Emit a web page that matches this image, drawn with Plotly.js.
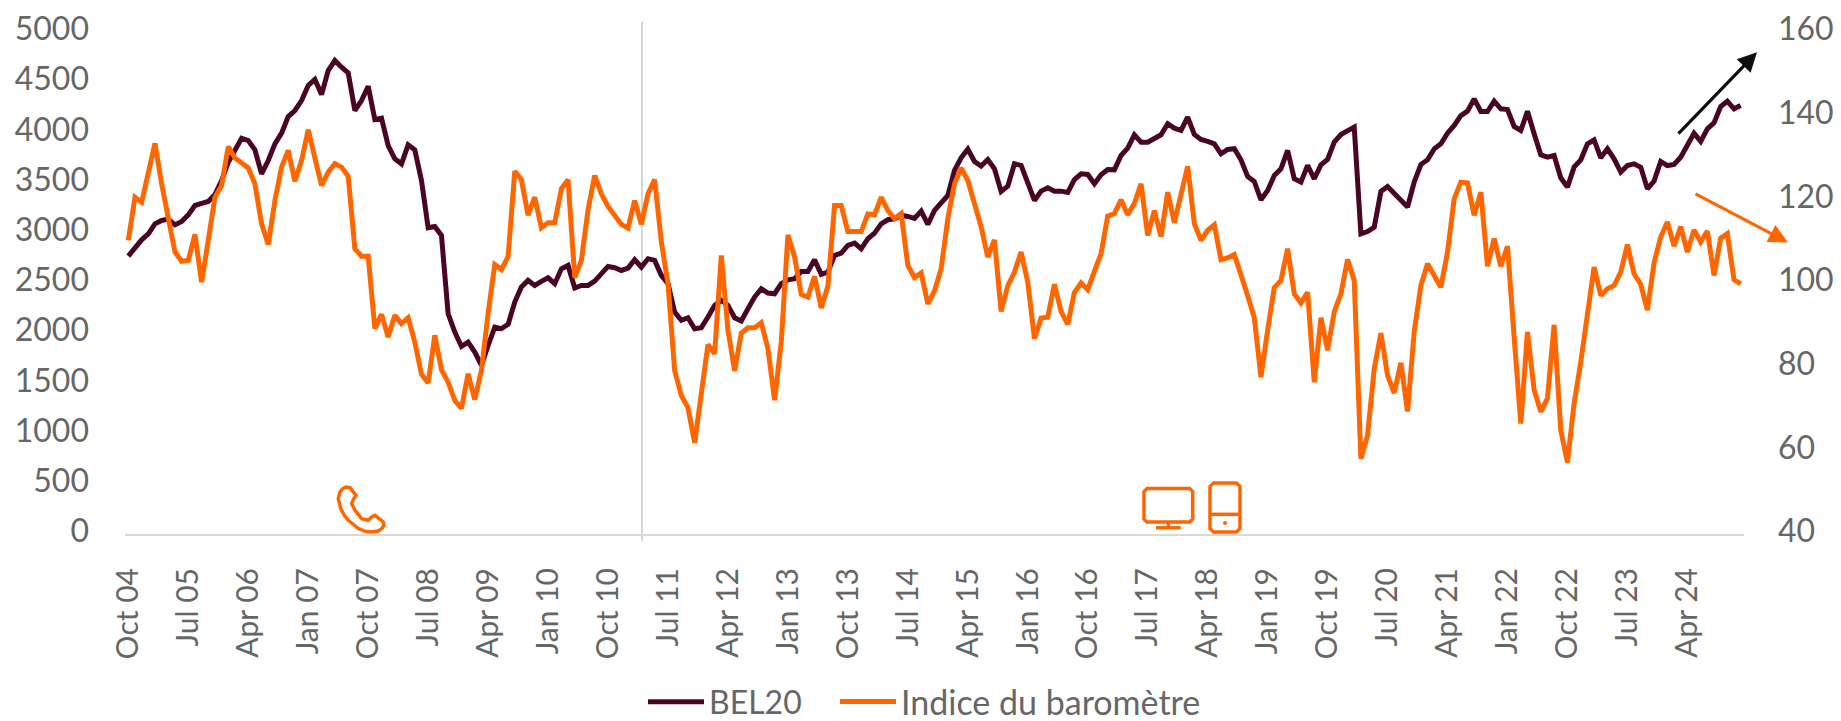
<!DOCTYPE html>
<html><head><meta charset="utf-8">
<script src="https://cdn.plot.ly/plotly-3.0.1.min.js"></script>
<style>html,body{margin:0;padding:0;background:#fff}</style></head>
<body><div id="chart" style="width:1841px;height:721px"></div>
<script>
const monthNames = ['Jan','Feb','Mar','Apr','May','Jun','Jul','Aug','Sep','Oct','Nov','Dec'];
const bel20 = [
2768,2857,2930,2990,3089,3123,3136,3079,3113,3179,3272,3292,3312,3381,3521,3703,3836,3942,3919,3826,
3587,3720,3886,3992,4158,4218,4317,4467,4527,4377,4616,4716,4649,4593,4218,4317,4460,4128,4142,3869,
3737,3687,3876,3826,3521,3050,3063,2973,2193,2011,1868,1911,1812,1679,1878,2061,
2045,2088,2310,2460,2526,2476,2516,2552,2493,2642,2675,2450,2476,2476,2519,2592,2665,2652,2625,2649,
2732,2659,2742,2725,2576,2493,2211,2128,2154,2045,2055,2161,2277,2327,2277,2154,2121,2244,2360,2443,
2400,2393,2493,2532,2542,2615,2615,2732,2586,2609,2775,2798,2874,2898,2841,2941,2997,3090,3130,3140,
3173,3163,3143,3216,3083,3223,3289,3372,3621,3747,3833,3710,3664,3730,3637,3412,3465,3687,3671,3488,
3322,3415,3448,3415,3415,3402,3531,3588,3581,3488,3578,3631,3627,3770,3843,3976,3903,3903,3936,3976,
4086,4042,4019,4152,3979,3930,3910,3886,3787,3830,3837,3727,3561,3511,3329,3422,3571,3637,3820,3538,
3505,3671,
3538,3677,3730,3903,3979,4009,4052,2990,3013,3056,3412,3461,3388,3315,3256,3505,3680,3727,3836,3886,
3992,4069,4168,4211,4334,4208,4208,4311,4235,4228,4059,4019,4211,3986,3777,3753,3770,3548,3455,3654,
3727,3886,3926,3747,3836,3737,3604,3670,3687,3654,3438,3515,3710,3670,3680,3753,3886,3992,3909,4036,
4095,4258,4311,4235,4268];
const barometre = [
110.2,120.5,119.3,126.9,133.4,123.7,115.0,107.4,105.2,105.4,111.6,100.2,110.2,120.5,123.3,132.6,129.9,128.7,127.5,123.7,
114.2,109.2,119.7,127.7,131.7,124.3,129.3,136.6,129.7,123.3,126.5,128.5,127.7,125.5,108.2,106.4,106.4,89.1,92.5,87.1,
92.3,90.3,91.7,85.9,78.2,76.1,87.5,79.3,76.3,71.9,70.0,78.3,72.1,79.1,92.7,104.4,
103.2,106.3,126.7,124.7,116.2,120.5,113.2,114.4,114.4,122.5,124.7,101.3,105.4,117.5,125.7,121.3,118.3,116.2,114.0,113.1,
119.7,114.0,121.3,124.7,109.8,99.8,79.1,73.1,70.2,61.8,72.7,85.3,83.1,106.6,88.7,79.0,88.0,89.3,89.3,90.5,
84.3,72.0,85.9,111.5,106.2,97.3,96.6,101.6,94.0,99.2,118.5,118.5,112.3,112.3,112.3,116.5,116.3,120.5,117.3,115.4,
116.6,104.2,101.3,102.4,95.0,98.1,103.4,115.4,123.7,127.5,124.5,119.0,113.4,106.2,110.3,93.2,99.3,102.6,107.4,100.2,
86.7,91.6,91.8,99.7,93.2,90.1,97.7,100.0,98.4,102.8,107.0,116.0,116.6,119.9,116.3,119.0,123.7,111.4,117.3,111.1,
121.7,114.4,120.9,127.9,114.2,110.2,112.6,113.9,105.6,106.0,106.8,101.4,97.0,91.7,77.5,88.7,98.9,100.6,108.2,97.4,
95.2,97.8,
76.3,91.7,83.9,93.1,97.4,105.6,100.6,58.0,63.6,79.5,88.0,77.9,73.7,80.9,69.3,88.3,99.4,104.6,101.8,99.0,
107.4,120.1,124.1,123.9,116.2,121.7,104.0,110.6,104.0,108.8,87.1,66.4,88.3,74.5,69.2,72.4,90.0,64.8,57.1,71.2,
81.1,92.3,103.8,97.0,98.6,99.4,102.6,109.2,102.2,99.7,93.5,104.8,111.0,114.6,108.8,113.5,107.4,112.7,109.8,112.4,
101.8,110.7,111.8,100.8,99.8];
const categories = bel20.map((_, i) => {
  const m = 9 + i;
  return monthNames[m % 12] + ' ' + String(4 + Math.floor(m / 12)).padStart(2, '0');
});

const W = 1841, H = 721, L = 125, R = 1744, T = 31.5, B = 533.7;
const px = x => (x - L) / (R - L);
const py = y => (B - y) / (B - T);
const poly = pts => pts.map((p, i) => (i ? 'L' : 'M') + px(p[0]) + ',' + py(p[1])).join(' ');
const ORANGE = '#ff6600', DARK = '#4a0424', GREY = '#666666';
const FONT = 'Lato, sans-serif';

function roundRect(x0, y0, x1, y1, r) {
  return poly([[x0 + r, y0], [x1 - r, y0], [x1, y0 + r], [x1, y1 - r], [x1 - r, y1], [x0 + r, y1], [x0, y1 - r], [x0, y0 + r]]) + ' Z';
}
const phone = [[346,486.7],[342.5,488.6],[340,491.7],[338.3,498.3],[340.7,508.3],[344,514.5],[348.3,520],[358.3,528.3],[364,530.6],[370,531.7],[378.3,530.7],[382,528],[384,525],[383.3,521.7],[375,515],[371.7,516.7],[368.3,520],[361.7,518.3],[355,510],[351.7,503.3],[353.3,499.3],[356,495],[350,487.3]];
const iconStyle = {xref:'paper', yref:'paper', type:'path', line:{color:ORANGE, width:3.5}, fillcolor:'rgba(0,0,0,0)'};
const shapes = [
  {type:'line', xref:'paper', yref:'paper', x0:px(642), x1:px(642), y0:py(21), y1:py(541), line:{color:'#c9c9c9', width:1.5}, layer:'below'},
  {...iconStyle, path:poly(phone) + ' Z'},
  {...iconStyle, path:roundRect(1144,488.3,1192.7,521.7,3)},
  {...iconStyle, path:poly([[1168.3,521.7],[1168.3,527.3]])},
  {...iconStyle, path:poly([[1156,527.5],[1180.7,527.5]])},
  {...iconStyle, path:roundRect(1210,482.7,1240,531.7,3.5)},
  {...iconStyle, path:poly([[1210,514],[1240,514]])},
  {xref:'paper', yref:'paper', type:'circle', x0:px(1223), x1:px(1227), y0:py(520.7), y1:py(524.7), fillcolor:ORANGE, line:{width:0}}
];
const annotations = [
  {xref:'paper', yref:'paper', x:px(1757), y:py(51.7), ax:-80, ay:83, text:'', showarrow:true, arrowhead:2, arrowsize:1.2, arrowwidth:3.2, arrowcolor:'#0d0d0d'},
  {xref:'paper', yref:'paper', x:px(1788), y:py(242), ax:-94, ay:-49.3, text:'', showarrow:true, arrowhead:2, arrowsize:1.2, arrowwidth:3.2, arrowcolor:ORANGE}
];

const traces = [
  {x:categories, y:bel20, name:'BEL20', type:'scatter', mode:'lines', yaxis:'y', legend:'legend', line:{color:DARK, width:5, shape:'linear'}},
  {x:categories, y:barometre, name:'Indice du baromètre', type:'scatter', mode:'lines', yaxis:'y2', legend:'legend2', line:{color:ORANGE, width:5, shape:'linear'}}
];
const yTickFont = {family:FONT, size:32, color:GREY};
const xTickFont = {family:FONT, size:30, color:GREY};
const legendBase = {orientation:'h', xref:'container', yref:'container', xanchor:'left', y:1 - 702/H, yanchor:'middle', itemwidth:56, bgcolor:'rgba(0,0,0,0)', borderwidth:0};
const layout = {
  width:W, height:H, paper_bgcolor:'#fff', plot_bgcolor:'#fff',
  margin:{l:L, r:W - R, t:T, b:H - B, pad:0, autoexpand:false},
  font:{family:FONT, color:GREY},
  xaxis:{type:'category', range:[-0.5, 242.5], tickmode:'linear', tick0:0, dtick:9, tickangle:-90, ticks:'', showgrid:false, zeroline:false,
    showline:true, linecolor:'#d9d9d9', linewidth:2, tickfont:xTickFont, ticklabelstandoff:20, automargin:false},
  yaxis:{range:[0,5000], dtick:500, tick0:0, ticks:'', showgrid:false, zeroline:false, showline:false, tickfont:yTickFont, ticklabelstandoff:35, ticklabelshift:-3, automargin:false},
  yaxis2:{range:[40,160], dtick:20, tick0:40, overlaying:'y', side:'right', ticks:'', showgrid:false, zeroline:false, showline:false, tickfont:yTickFont, ticklabelstandoff:33, ticklabelshift:-3, automargin:false},
  showlegend:true,
  legend:{...legendBase, x:643/W, font:{family:FONT, size:32, color:GREY}},
  legend2:{...legendBase, x:835/W, font:{family:FONT, size:34, color:GREY}},
  shapes, annotations
};
Plotly.newPlot('chart', traces, layout, {displayModeBar:false, responsive:false});
</script></body></html>
